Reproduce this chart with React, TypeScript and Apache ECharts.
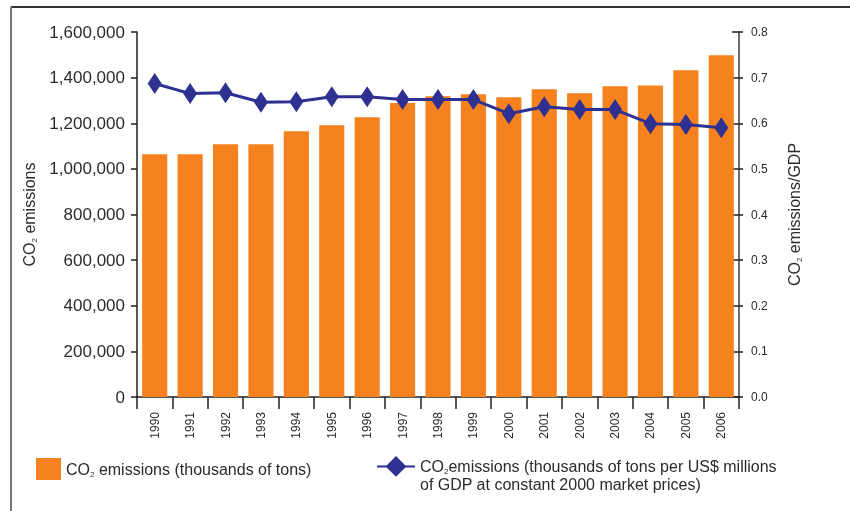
import React, { useEffect, useRef } from "react";
import * as echarts from "echarts";

const years = ["1990","1991","1992","1993","1994","1995","1996","1997","1998","1999","2000","2001","2002","2003","2004","2005","2006"];
const emissions = [1064000,1064000,1108000,1108000,1165000,1191000,1226000,1289000,1318000,1327000,1314000,1349000,1331000,1362000,1366000,1432000,1498000];
const intensity = [0.687,0.665,0.667,0.646,0.647,0.658,0.658,0.652,0.652,0.652,0.621,0.636,0.630,0.630,0.599,0.597,0.590];

const barName = "CO2 emissions (thousands of tons)";
const lineName = "CO2 emissions (thousands of tons per US$ millions of GDP at constant 2000 market prices)";

const FONT = "'Liberation Sans', Arial, sans-serif";
const TXT = "#2b2b2b";
const ORANGE = "#F5821F";
const NAVY = "#2E3192";

export default function App() {
  const ref = useRef<HTMLDivElement>(null);
  useEffect(() => {
    if (!ref.current) return;
    const chart = echarts.init(ref.current, null, { renderer: "svg" });
    const rich = (size: number, lh: number) => ({
      n: { fontSize: size, color: TXT, fontFamily: FONT, lineHeight: lh },
      s: { fontSize: 8, color: TXT, fontFamily: FONT, verticalAlign: "bottom", lineHeight: lh },
    });
    chart.setOption({
      animation: false,
      textStyle: { fontFamily: FONT, color: TXT },
      grid: { left: 137, right: 111, top: 32, bottom: 114, containLabel: false },
      graphic: [
        { type: "line", shape: { x1: 11, y1: 7, x2: 850, y2: 7 }, style: { stroke: "#333", lineWidth: 2 } },
        { type: "line", shape: { x1: 11, y1: 7, x2: 11, y2: 511 }, style: { stroke: "#777", lineWidth: 2 } },
      ],
      legend: [
        {
          data: [barName],
          left: 36,
          top: 458,
          padding: 0,
          itemWidth: 25,
          itemHeight: 22,
          icon: "rect",
          selectedMode: false,
          formatter: () => "{n|CO}{s|2}{n| emissions (thousands of tons)}",
          textStyle: { rich: rich(16, 18) },
        },
        {
          data: [lineName],
          left: 376,
          top: 456,
          padding: 0,
          itemWidth: 38,
          itemHeight: 26,
          selectedMode: false,
          formatter: () =>
            "{n|CO}{s|2}{n|emissions (thousands of tons per US$ millions}\n{n|of GDP at constant 2000 market prices)}",
          textStyle: { rich: rich(16, 18), padding: [18, 0, 0, 0] },
        },
      ],
      xAxis: {
        type: "category",
        data: years,
        boundaryGap: true,
        axisLine: { lineStyle: { color: "#231F20", width: 1.5 } },
        axisTick: { show: true, length: 12, lineStyle: { color: "#231F20", width: 1.5 } },
        axisLabel: { rotate: 90, fontSize: 12, color: TXT, margin: 15, fontFamily: FONT },
      },
      yAxis: [
        {
          type: "value",
          min: 0,
          max: 1600000,
          interval: 200000,
          position: "left",
          name: "{n|CO}{s|2}{n| emissions}",
          nameLocation: "middle",
          nameRotate: 90,
          nameGap: 94,
          nameTextStyle: { rich: rich(16, 18) },
          axisLine: { show: true, lineStyle: { color: "#231F20", width: 1.5 } },
          axisTick: { show: true, length: 6, lineStyle: { color: "#231F20", width: 1.5 } },
          axisLabel: {
            fontSize: 17,
            color: TXT,
            margin: 12,
            fontFamily: FONT,
            formatter: (v: number) => v.toLocaleString("en-US"),
          },
          splitLine: { show: false },
        },
        {
          type: "value",
          min: 0,
          max: 0.8,
          interval: 0.1,
          position: "right",
          name: "{n|CO}{s|2}{n| emissions/GDP}",
          nameLocation: "middle",
          nameRotate: 90,
          nameGap: 46,
          nameTextStyle: { rich: rich(16, 18) },
          axisLine: { show: true, lineStyle: { color: "#6d6d6d", width: 2 } },
          axisTick: { show: true, length: 4, lineStyle: { color: "#231F20", width: 1.5 } },
          axisLabel: {
            fontSize: 12,
            color: TXT,
            margin: 12,
            fontFamily: FONT,
            formatter: (v: number) => v.toFixed(1),
          },
          splitLine: { show: false },
        },
        {
          type: "value",
          min: 0,
          max: 0.8,
          interval: 0.1,
          position: "right",
          axisLine: { show: false },
          axisTick: { show: true, inside: true, length: 7, lineStyle: { color: "#231F20", width: 1.5 } },
          axisLabel: { show: false },
          splitLine: { show: false },
        },
      ],
      series: [
        {
          name: barName,
          type: "bar",
          data: emissions,
          yAxisIndex: 0,
          barCategoryGap: "29%",
          itemStyle: { color: ORANGE },
        },
        {
          name: lineName,
          type: "line",
          data: intensity,
          yAxisIndex: 1,
          symbol: "diamond",
          symbolSize: [14, 21],
          lineStyle: { color: NAVY, width: 3 },
          itemStyle: { color: NAVY },
          z: 5,
        },
      ],
    });
    return () => chart.dispose();
  }, []);
  return <div ref={ref} style={{ position: "fixed", left: 0, top: 0, width: 850, height: 511 }} />;
}
